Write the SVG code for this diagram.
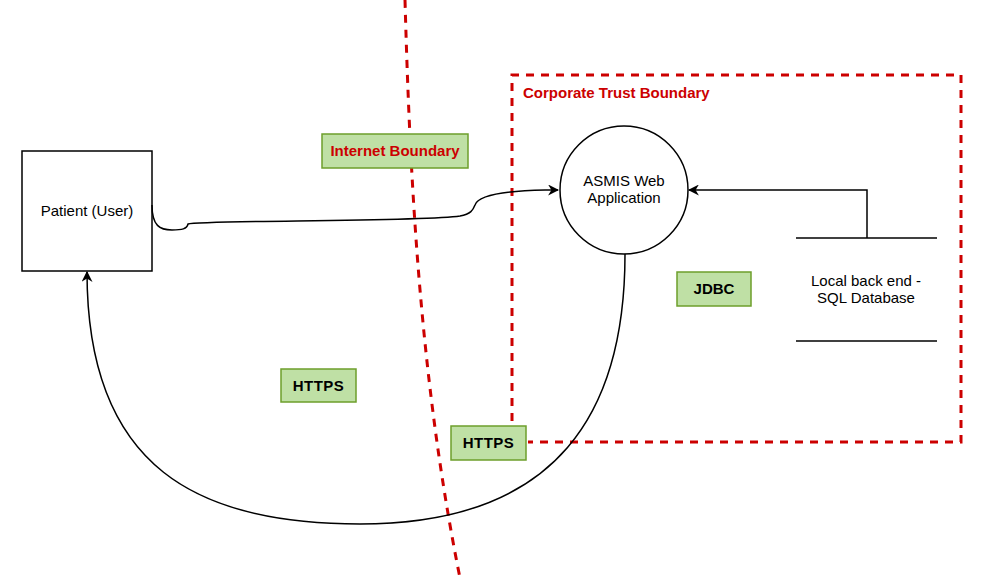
<svg xmlns="http://www.w3.org/2000/svg" width="991" height="578" viewBox="0 0 991 578">
<style>
.t{font-family:"Liberation Sans",Arial,sans-serif;font-size:15px;fill:#000;text-anchor:middle}
.b{font-weight:bold}
.red{fill:#cc0000}
.lbl{fill:#bfe0a5;stroke:#6d9f2b;stroke-width:1.5}
.bnd{fill:none;stroke:#cc0000;stroke-width:3;stroke-dasharray:8 7}
.c{fill:none;stroke:#000;stroke-width:1.5}
</style>
<defs>
<marker id="arr" viewBox="0 0 10 10" refX="9" refY="5" markerWidth="11" markerHeight="11" markerUnits="userSpaceOnUse" orient="auto">
<path d="M0,0 L10,5 L0,10 L3,5 Z" fill="#000"/>
</marker>
</defs>
<rect width="991" height="578" fill="#fff"/>
<g id="corporate-boundary">
<path class="bnd" d="M512,421 L512,75 L961,75 L961,442 L528,442"/>
<text class="t b red" x="523" y="98" style="text-anchor:start">Corporate Trust Boundary</text>
</g>
<g id="internet-boundary">
<path class="bnd" d="M405,0 C410,180 420,380 460,578"/>
</g>
<g id="patient">
<rect x="22" y="151" width="130" height="120" fill="#fff" stroke="#000" stroke-width="1.5"/>
<text class="t" x="87" y="216">Patient (User)</text>
</g>
<g id="asmis">
<circle cx="624" cy="190" r="64" fill="#fff" stroke="#000" stroke-width="1.5"/>
<text class="t" x="624" y="186">ASMIS Web</text>
<text class="t" x="624" y="203">Application</text>
</g>
<g id="database">
<line x1="796" y1="238" x2="937" y2="238" stroke="#000" stroke-width="1.5"/>
<line x1="796" y1="341" x2="937" y2="341" stroke="#000" stroke-width="1.5"/>
<text class="t" x="866" y="286">Local back end -</text>
<text class="t" x="866" y="303">SQL Database</text>
</g>
<g id="connectors">
<path class="c" marker-end="url(#arr)" d="M152,205 C152,226 160,230 172,230 C182,230 187,229 188,224 C200,220 420,222 460,216 C471,214 473,210 475,205 C478,196 500,191 545,190 L558,190"/>
<path class="c" marker-end="url(#arr)" d="M867,238 L867,190 L689,190"/>
<path class="c" marker-end="url(#arr)" d="M625,254 C625,410 560,524 360,524 C200,524 87,470 87,272"/>
</g>
<g id="label-internet">
<rect class="lbl" x="322" y="134" width="146" height="34"/>
<text class="t b red" x="395" y="156">Internet Boundary</text>
</g>
<g id="label-jdbc">
<rect class="lbl" x="677" y="272" width="74" height="34"/>
<text class="t b" x="714" y="294">JDBC</text>
</g>
<g id="label-https1">
<rect class="lbl" x="281" y="369" width="75" height="33"/>
<text class="t b" x="318.5" y="391" style="letter-spacing:0.5px">HTTPS</text>
</g>
<g id="label-https2">
<rect class="lbl" x="451" y="426" width="75" height="34"/>
<text class="t b" x="488.5" y="448" style="letter-spacing:0.5px">HTTPS</text>
</g>
</svg>
